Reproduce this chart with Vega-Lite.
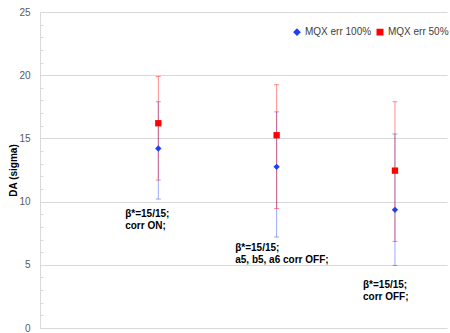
{
  "$schema": "https://vega.github.io/schema/vega-lite/v6.json",
  "width": 407,
  "height": 316,
  "autosize": "none",
  "padding": {"left": 40, "top": 12, "right": 3, "bottom": 5},
  "config": {
    "view": {"stroke": null},
    "font": "Liberation Sans",
    "axisY": {
      "labelFontSize": 10,
      "labelColor": "#595959",
      "labelPadding": 13,
      "gridColor": "#d9d9d9",
      "domainColor": "#d9d9d9",
      "tickColor": "#d9d9d9",
      "tickSize": -3,
      "titleFontSize": 10,
      "titleFontWeight": "bold",
      "titleColor": "#000000",
      "titlePadding": 0
    },
    "legend": {
      "orient": "none", "legendX": 252, "legendY": 15, "direction": "horizontal",
      "title": null, "labelFontSize": 10, "labelColor": "#404040",
      "symbolSize": 30, "symbolOpacity": 1, "columnPadding": 2, "padding": 0, "labelOffset": 3
    }
  },
  "datasets": {
    "pts": [
      {"config": "A", "series": "MQX err 100%", "x": 1, "y": 14.2, "lo": 10.2, "hi": 17.9},
      {"config": "B", "series": "MQX err 100%", "x": 2, "y": 12.75, "lo": 7.2, "hi": 17.1},
      {"config": "C", "series": "MQX err 100%", "x": 3, "y": 9.35, "lo": 4.95, "hi": 15.35},
      {"config": "A", "series": "MQX err 50%", "x": 1, "y": 16.2, "lo": 11.7, "hi": 19.9},
      {"config": "B", "series": "MQX err 50%", "x": 2, "y": 15.25, "lo": 9.45, "hi": 19.25},
      {"config": "C", "series": "MQX err 50%", "x": 3, "y": 12.45, "lo": 6.85, "hi": 17.9}
    ],
    "labels": [
      {"x": 0.72, "y": 9.02, "text": "β*=15/15;"},
      {"x": 0.72, "y": 8.07, "text": "corr ON;"},
      {"x": 1.65, "y": 6.33, "text": "β*=15/15;"},
      {"x": 1.65, "y": 5.38, "text": "a5, b5, a6 corr OFF;"},
      {"x": 2.73, "y": 3.4, "text": "β*=15/15;"},
      {"x": 2.73, "y": 2.45, "text": "corr OFF;"}
    ]
  },
  "layer": [
    {
      "data": {"name": "pts"},
      "mark": {"type": "rule", "strokeWidth": 1, "opacity": 0.45},
      "encoding": {
        "x": {"field": "x", "type": "quantitative", "scale": {"domain": [0, 3.44], "nice": false}, "axis": null},
        "y": {
          "field": "lo", "type": "quantitative",
          "scale": {"domain": [0, 25], "nice": false, "zero": true},
          "title": "DA (sigma)",
          "axis": {
            "values": [0,0.5,1,1.5,2,2.5,3,3.5,4,4.5,5,5.5,6,6.5,7,7.5,8,8.5,9,9.5,10,10.5,11,11.5,12,12.5,13,13.5,14,14.5,15,15.5,16,16.5,17,17.5,18,18.5,19,19.5,20,20.5,21,21.5,22,22.5,23,23.5,24,24.5,25],
            "format": "d",
            "labelExpr": "datum.value % 5 === 0 ? datum.label : ''",
            "labelOverlap": false,
            "labelBound": false,
            "gridOpacity": {"condition": {"test": "datum.value % 5 === 0", "value": 1}, "value": 0}
          }
        },
        "y2": {"field": "hi"},
        "color": {"field": "series", "type": "nominal", "scale": {"domain": ["MQX err 100%", "MQX err 50%"], "range": ["#2040f0", "#ff0000"]}}
      }
    },
    {
      "data": {"name": "pts"},
      "transform": [{"fold": ["lo", "hi"], "as": ["end", "val"]}],
      "mark": {"type": "tick", "orient": "horizontal", "size": 5, "thickness": 1, "opacity": 0.45},
      "encoding": {
        "x": {"field": "x", "type": "quantitative", "scale": {"domain": [0, 3.44], "nice": false}, "axis": null},
        "y": {
          "field": "val", "type": "quantitative",
          "scale": {"domain": [0, 25], "nice": false, "zero": true},
          "title": "DA (sigma)",
          "axis": {
            "values": [0,0.5,1,1.5,2,2.5,3,3.5,4,4.5,5,5.5,6,6.5,7,7.5,8,8.5,9,9.5,10,10.5,11,11.5,12,12.5,13,13.5,14,14.5,15,15.5,16,16.5,17,17.5,18,18.5,19,19.5,20,20.5,21,21.5,22,22.5,23,23.5,24,24.5,25],
            "format": "d",
            "labelExpr": "datum.value % 5 === 0 ? datum.label : ''",
            "labelOverlap": false,
            "labelBound": false,
            "gridOpacity": {"condition": {"test": "datum.value % 5 === 0", "value": 1}, "value": 0}
          }
        },
        "color": {"field": "series", "type": "nominal"}
      }
    },
    {
      "data": {"name": "pts"},
      "mark": {"type": "point", "filled": true, "opacity": 1, "size": 40},
      "encoding": {
        "x": {"field": "x", "type": "quantitative", "scale": {"domain": [0, 3.44], "nice": false}, "axis": null},
        "y": {
          "field": "y", "type": "quantitative",
          "scale": {"domain": [0, 25], "nice": false, "zero": true},
          "title": "DA (sigma)",
          "axis": {
            "values": [0,0.5,1,1.5,2,2.5,3,3.5,4,4.5,5,5.5,6,6.5,7,7.5,8,8.5,9,9.5,10,10.5,11,11.5,12,12.5,13,13.5,14,14.5,15,15.5,16,16.5,17,17.5,18,18.5,19,19.5,20,20.5,21,21.5,22,22.5,23,23.5,24,24.5,25],
            "format": "d",
            "labelExpr": "datum.value % 5 === 0 ? datum.label : ''",
            "labelOverlap": false,
            "labelBound": false,
            "gridOpacity": {"condition": {"test": "datum.value % 5 === 0", "value": 1}, "value": 0}
          }
        },
        "color": {"field": "series", "type": "nominal"},
        "shape": {"field": "series", "type": "nominal", "scale": {"domain": ["MQX err 100%", "MQX err 50%"], "range": ["diamond", "square"]}}
      }
    },
    {
      "data": {"name": "labels"},
      "mark": {"type": "text", "align": "left", "baseline": "middle", "fontWeight": "bold", "fontSize": 10, "color": "#000000"},
      "encoding": {
        "x": {"field": "x", "type": "quantitative", "scale": {"domain": [0, 3.44], "nice": false}, "axis": null},
        "y": {
          "field": "y", "type": "quantitative",
          "scale": {"domain": [0, 25], "nice": false, "zero": true},
          "title": "DA (sigma)",
          "axis": {
            "values": [0,0.5,1,1.5,2,2.5,3,3.5,4,4.5,5,5.5,6,6.5,7,7.5,8,8.5,9,9.5,10,10.5,11,11.5,12,12.5,13,13.5,14,14.5,15,15.5,16,16.5,17,17.5,18,18.5,19,19.5,20,20.5,21,21.5,22,22.5,23,23.5,24,24.5,25],
            "format": "d",
            "labelExpr": "datum.value % 5 === 0 ? datum.label : ''",
            "labelOverlap": false,
            "labelBound": false,
            "gridOpacity": {"condition": {"test": "datum.value % 5 === 0", "value": 1}, "value": 0}
          }
        },
        "text": {"field": "text"}
      }
    }
  ]
}
